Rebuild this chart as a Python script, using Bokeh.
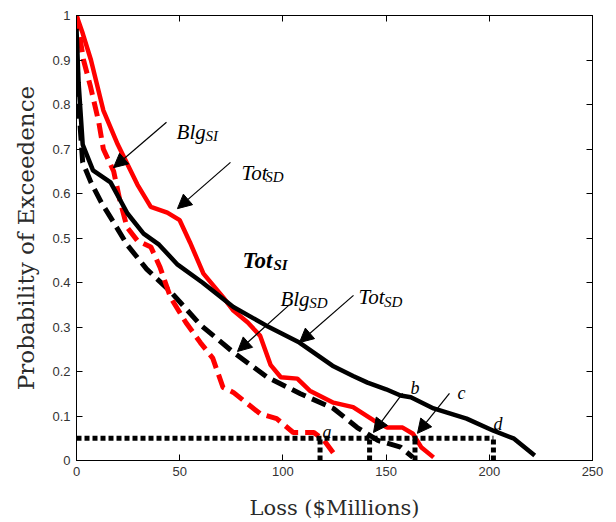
from bokeh.plotting import figure
from bokeh.models import (Range1d, LinearAxis, FixedTicker, CustomJSTickFormatter,
                          Label, Arrow, NormalHead)
from bokeh.embed import file_html
from bokeh.resources import INLINE

# ---- data (loss in $M, probability of exceedance) ----
tot_si_loss = [0, 1, 3, 8, 16.5, 24.7, 32.5, 40, 49, 61, 76, 92, 108, 124, 134, 141,
               150, 157, 162, 173, 189, 202, 212, 222]
tot_si_prob = [0.97, 0.85, 0.71, 0.652, 0.625, 0.555, 0.51, 0.485, 0.44, 0.40, 0.345,
               0.303, 0.265, 0.213, 0.19, 0.175, 0.16, 0.146, 0.142, 0.117, 0.094,
               0.067, 0.049, 0.011]

blg_sd_loss = [0, 1, 3, 7, 12, 18, 24.5, 34, 45.5, 60, 76, 92.5, 108.5, 124.5, 136,
               146, 157, 163]
blg_sd_prob = [0.95, 0.80, 0.67, 0.625, 0.58, 0.535, 0.485, 0.43, 0.38, 0.305, 0.243,
               0.187, 0.15, 0.117, 0.074, 0.045, 0.03, 0.007]

tot_sd_loss = [0, 3, 7, 13, 20, 29.5, 36, 44, 50, 55, 61.5, 71, 76, 83, 89, 94, 99,
               107, 113, 124.5, 134, 144, 150.5, 158, 163, 167, 173]
tot_sd_prob = [1.0, 0.96, 0.90, 0.787, 0.71, 0.62, 0.57, 0.557, 0.54, 0.49, 0.42,
               0.367, 0.337, 0.31, 0.28, 0.215, 0.187, 0.184, 0.157, 0.13, 0.12, 0.09,
               0.074, 0.074, 0.06, 0.03, 0.007]

blg_si_loss = [0, 3.4, 6.8, 10.8, 13, 18, 21, 24.5, 29.5, 36, 40.5, 45.5, 53, 60, 66,
               71, 76, 89, 97, 105, 115, 120, 126]
blg_si_prob = [1.0, 0.90, 0.84, 0.76, 0.70, 0.65, 0.585, 0.524, 0.494, 0.48, 0.434,
               0.367, 0.31, 0.265, 0.23, 0.164, 0.153, 0.105, 0.094, 0.063, 0.063,
               0.045, 0.007]

threshold = 0.05
threshold_losses = [118, 142, 164, 202]          # a, b, c, d
threshold_names = ["a", "b", "c", "d"]

x_ticks = [0, 50, 100, 150, 200, 250]
y_ticks = [0, 0.1, 0.2, 0.3, 0.4, 0.5, 0.6, 0.7, 0.8, 0.9, 1]

# ---- figure ----
p = figure(width=608, height=522, x_range=Range1d(0, 250), y_range=Range1d(0, 1),
           output_backend="svg", toolbar_location=None,
           min_border_left=76, min_border_right=16, min_border_top=15,
           min_border_bottom=62)
p.grid.visible = False
p.outline_line_color = "black"
p.outline_line_width = 1
p.background_fill_color = "white"
p.border_fill_color = "white"

tick_font = "Liberation Sans"

def style_axis(ax, labels=True):
    ax.major_tick_in = 6
    ax.major_tick_out = 0
    ax.minor_tick_line_color = None
    ax.axis_line_color = "black"
    ax.major_tick_line_color = "black"
    ax.major_label_text_font = tick_font
    ax.major_label_text_font_size = "13px"
    ax.major_label_text_color = "#333333"
    if not labels:
        ax.major_label_text_font_size = "1px"
        ax.major_label_text_color = None
        ax.major_label_standoff = 0

xf = p.xaxis[0]
xf.ticker = FixedTicker(ticks=x_ticks)
style_axis(xf)
xf.major_label_standoff = 6
xf.axis_label = "Loss ($Millions)"
xf.axis_label_text_font = "DejaVu Serif"
xf.axis_label_text_font_style = "normal"
xf.axis_label_text_font_size = "21px"
xf.axis_label_text_color = "#2a2a2a"
xf.axis_label_standoff = 17

yf = p.yaxis[0]
yf.ticker = FixedTicker(ticks=y_ticks)
yf.formatter = CustomJSTickFormatter(code="""
var s = tick.toFixed(1);
return s.endsWith('.0') ? s.slice(0, -2) : s;
""")
style_axis(yf)
yf.major_label_standoff = 6
yf.axis_label = "Probability of Exceedence"
yf.axis_label_text_font = "DejaVu Serif"
yf.axis_label_text_font_style = "normal"
yf.axis_label_text_font_size = "23px"
yf.axis_label_text_color = "#2a2a2a"
yf.axis_label_standoff = 10

top_ax = LinearAxis(ticker=FixedTicker(ticks=x_ticks))
style_axis(top_ax, labels=False)
p.add_layout(top_ax, "above")
right_ax = LinearAxis(ticker=FixedTicker(ticks=y_ticks))
style_axis(right_ax, labels=False)
p.add_layout(right_ax, "right")

# ---- curves ----
p.line(blg_sd_loss, blg_sd_prob, line_color="black", line_width=5, line_dash="15 7")
p.line(blg_si_loss, blg_si_prob, line_color="#ff0000", line_width=5, line_dash="15 7")
p.line(tot_sd_loss, tot_sd_prob, line_color="#ff0000", line_width=4.5)
p.line(tot_si_loss, tot_si_prob, line_color="black", line_width=4.5)

# ---- 0.05 threshold lines ----
p.line([0, max(threshold_losses)], [threshold, threshold], line_color="black",
       line_width=5, line_dash="5 3")
p.segment(x0=threshold_losses, y0=[0] * 4, x1=threshold_losses, y1=[threshold] * 4,
          line_color="black", line_width=5, line_dash="5 3")

p.add_layout(Label(x=0, y=threshold, text="0.05", x_offset=-6, text_align="right",
                   text_baseline="middle", text_font=tick_font,
                   text_font_size="17px", text_color="#333333"))

# ---- labels with subscripts: (main, sub, x, y, x_sub, y_sub, style, size) ----
curve_labels = [
    ("Blg", "SI", 48.5, 0.738, 62.5, 0.729, "italic", "21px"),
    ("Tot", "SD", 79.9, 0.647, 91.5, 0.638, "italic", "21px"),
    ("Tot", "SI", 80.4, 0.449, 95.4, 0.440, "bold italic", "23px"),
    ("Blg", "SD", 98.8, 0.364, 112.8, 0.353, "italic", "21px"),
    ("Tot", "SD", 136.6, 0.368, 149.0, 0.357, "italic", "21px"),
]
for main, sub, x, y, xs, ys, style, size in curve_labels:
    p.add_layout(Label(x=x, y=y, text=main, text_font="Liberation Serif",
                       text_font_style=style, text_font_size=size,
                       text_color="black", text_baseline="alphabetic"))
    p.add_layout(Label(x=xs, y=ys, text=sub, text_font="Liberation Serif",
                       text_font_style=style, text_font_size="15px",
                       text_color="black", text_baseline="alphabetic"))

point_label_pos = [(119.2, 0.063), (161.8, 0.162), (184.6, 0.151), (202.0, 0.083)]
for name, (x, y) in zip(threshold_names, point_label_pos):
    p.add_layout(Label(x=x, y=y, text=name, text_font="Liberation Serif",
                       text_font_style="italic", text_font_size="18px",
                       text_color="black", text_baseline="alphabetic"))

# ---- arrows: (x_start, y_start, x_end, y_end) ----
arrows = [
    (43.6, 0.760, 17.9, 0.658),
    (74.6, 0.670, 48.9, 0.566),
    (102.7, 0.348, 78.0, 0.245),
    (134.2, 0.371, 108.0, 0.265),
    (158.0, 0.151, 143.9, 0.063),
    (180.7, 0.151, 165.2, 0.061),
]
for xs, ys, xe, ye in arrows:
    p.add_layout(Arrow(end=NormalHead(size=14, fill_color="black", line_color="black"),
                       x_start=xs, y_start=ys, x_end=xe, y_end=ye,
                       line_color="black", line_width=1.2))

open("out.html", "w").write(file_html(p, INLINE))
